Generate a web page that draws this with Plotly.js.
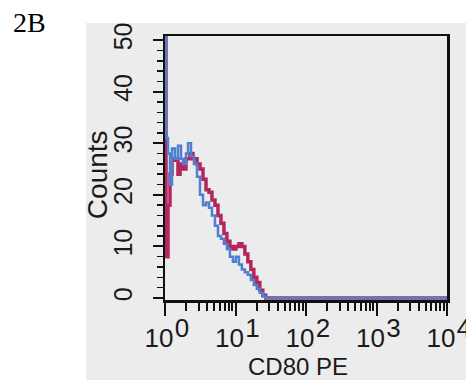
<!DOCTYPE html>
<html>
<head>
<meta charset="utf-8">
<script src="https://cdn.plot.ly/plotly-3.0.1.min.js"></script>
<style>html,body{margin:0;padding:0;background:#fff;}#chart{width:466px;height:380px;}</style>
</head>
<body>
<div id="chart"></div>
<script>
// CD80 PE fluorescence (channel values) and event counts
const redX = [1.0, 1.033, 1.103, 1.177, 1.257, 1.386, 1.528, 1.633, 1.800, 1.985, 2.262, 2.495, 2.844, 3.137, 3.459, 3.814, 4.205, 4.636, 5.112, 5.637, 6.215, 6.853, 7.557, 8.332, 9.187, 10.13, 11.17, 12.32, 13.58, 14.97, 16.51, 18.20, 20.07, 22.13, 24.40, 26.91, 10000];
const redY = [60, 8, 18, 24, 26.7, 27, 24, 26, 25, 27, 28, 27, 26, 25, 23, 21, 20.5, 19, 18, 16, 14.5, 12.5, 11, 10, 9.5, 10, 10.5, 10, 8.5, 7, 5.5, 4, 3, 1.5, 0.5, 0, 0];
const blueX = [1.0, 1.033, 1.103, 1.177, 1.257, 1.386, 1.528, 1.686, 1.800, 1.985, 2.121, 2.337, 2.577, 2.844, 3.137, 3.459, 3.814, 4.205, 4.636, 5.112, 5.637, 6.215, 6.853, 7.557, 8.332, 9.187, 10.13, 11.17, 12.32, 13.58, 14.97, 16.51, 18.20, 20.07, 22.13, 24.40, 26.91, 10000];
const blueY = [60, 31, 28, 22, 29, 27, 29.5, 27, 26, 28, 30, 27.5, 26, 23.5, 20, 18, 18.5, 17.5, 16, 14, 12, 11.5, 10.5, 9.5, 8, 7, 8, 6.5, 5.5, 5, 4.5, 3.5, 2.5, 1.8, 1, 0.3, 0, 0];
const xTickVals = [1, 10, 100, 1000, 10000];
const xTickBase = ['10', '10', '10', '10', '10'];
const xExponents = ['0', '1', '2', '3', '4'];
const yTickVals = [0, 10, 20, 30, 40, 50];

const sans = 'Liberation Sans, Arial, sans-serif';
const traces = [
  {x: redX, y: redY, type: 'scatter', mode: 'lines', line: {shape: 'hv', color: '#b3265e', width: 3.5}, hoverinfo: 'skip'},
  {x: blueX, y: blueY, type: 'scatter', mode: 'lines', line: {shape: 'hv', color: '#4f7fcf', width: 2.5}, hoverinfo: 'skip'},
  // carrier for the exponent axis (no visible marks)
  {x: xTickVals, y: xTickVals.map(() => null), xaxis: 'x2', yaxis: 'y', type: 'scatter', mode: 'markers', hoverinfo: 'skip'}
];
const xFont = {family: sans, size: 26, color: '#1a1a1a'};
const yFont = {family: sans, size: 25, color: '#1a1a1a'};
const layout = {
  width: 466, height: 380,
  margin: {l: 165, r: 19, t: 36, b: 80},
  paper_bgcolor: '#ffffff',
  plot_bgcolor: '#ececec',
  showlegend: false,
  xaxis: {
    type: 'log', range: [0, 4],
    tickvals: xTickVals, ticktext: xTickBase,
    ticks: 'outside', ticklen: 13, tickwidth: 2, tickcolor: '#111',
    minor: {ticks: 'outside', ticklen: 8, tickwidth: 2, tickcolor: '#111', dtick: 'D1'},
    showline: true, linecolor: '#111', linewidth: 2.5, mirror: true,
    showgrid: false, zeroline: false,
    ticklabelshift: -6, ticklabelstandoff: 0, ticklabeloverflow: 'allow',
    tickfont: xFont
  },
  xaxis2: {
    type: 'log', range: [0, 4], overlaying: 'x', anchor: 'y', side: 'bottom',
    tickvals: xTickVals, ticktext: xExponents,
    ticks: '', showline: false, showgrid: false, zeroline: false,
    ticklabelshift: 17, ticklabelstandoff: 10, ticklabeloverflow: 'allow',
    tickfont: xFont
  },
  yaxis: {
    range: [-0.4, 50.8],
    tickvals: yTickVals,
    ticks: 'outside', ticklen: 10, tickwidth: 2, tickcolor: '#111',
    minor: {ticks: 'outside', ticklen: 6, tickwidth: 1.5, tickcolor: '#111', dtick: 2},
    tickangle: -90, ticklabelstandoff: 11,
    showline: true, linecolor: '#111', linewidth: 2.5, mirror: true,
    showgrid: false, zeroline: false,
    tickfont: yFont
  },
  shapes: [
    {type: 'rect', xref: 'paper', yref: 'paper', x0: -0.28, x1: 1.1, y0: -0.35, y1: 1.049, fillcolor: '#ececec', line: {width: 0}, layer: 'below'}
  ],
  annotations: [
    {text: '2B', xref: 'paper', yref: 'paper', x: -0.546, y: 1.051, xanchor: 'left', yanchor: 'middle', showarrow: false, font: {family: 'Liberation Serif, Times New Roman, serif', size: 28, color: '#000'}},
    {text: 'CD80 PE', xref: 'paper', yref: 'paper', x: 0.47, y: -0.25, xanchor: 'center', yanchor: 'middle', showarrow: false, font: {family: sans, size: 24, color: '#1a1a1a'}},
    {text: 'Counts', xref: 'paper', yref: 'paper', x: -0.241, y: 0.473, xanchor: 'center', yanchor: 'middle', textangle: -90, showarrow: false, font: {family: sans, size: 28, color: '#1a1a1a'}}
  ]
};
Plotly.newPlot('chart', traces, layout, {staticPlot: true, displayModeBar: false});
</script>
</body>
</html>
